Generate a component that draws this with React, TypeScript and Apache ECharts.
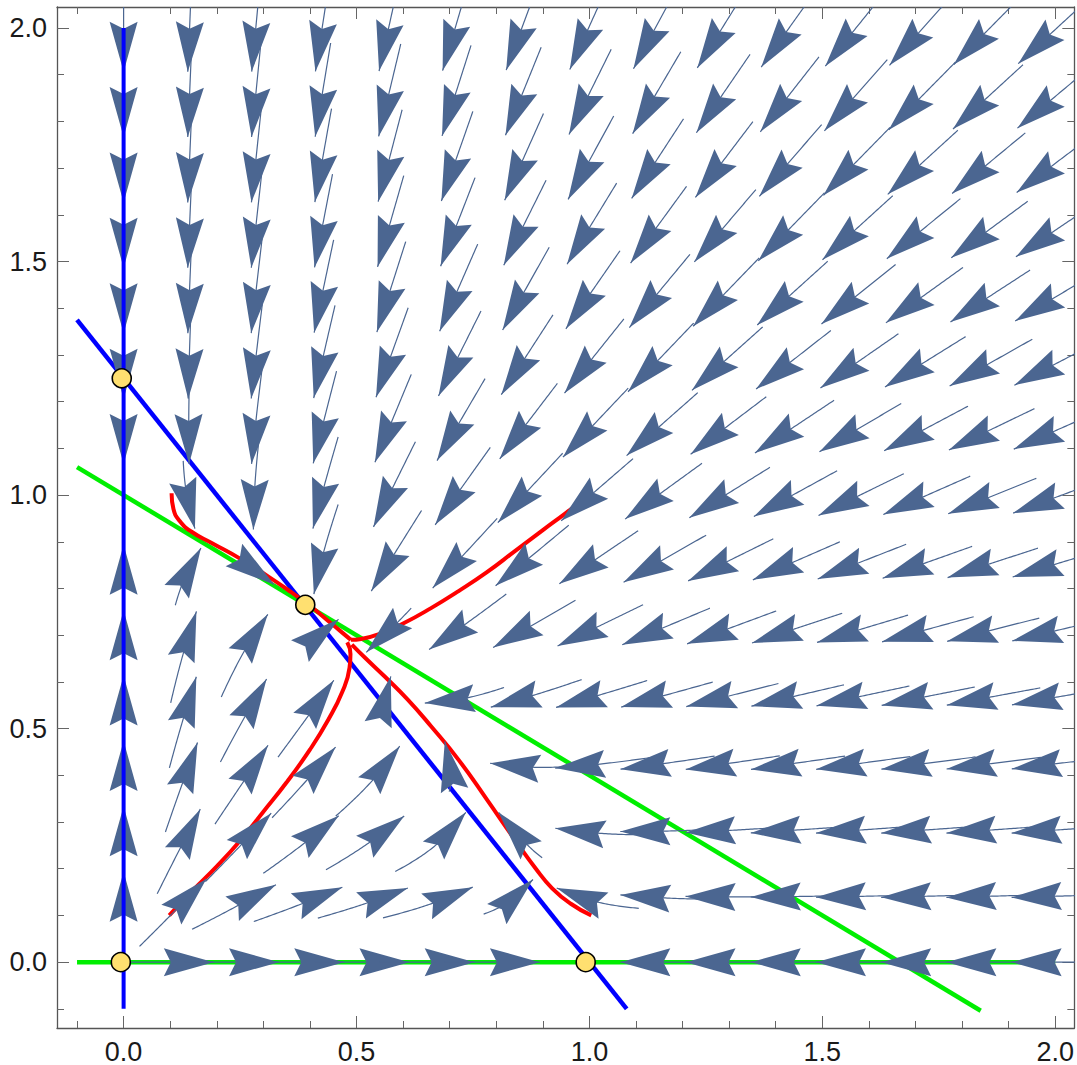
import React, { useEffect, useRef } from "react";
import * as echarts from "echarts";

// ---- model coefficients (flow on the axes and the meeting point of the red curves)
const MODEL_A = 0.75; // effect of y on x
const MODEL_B = 0.65; // effect of x on y

// ---- axes
const X_RANGE = [-0.143, 2.041];
const Y_RANGE = [-0.141, 2.045];
const MAJOR_TICKS = [0, 0.5, 1, 1.5, 2];
const MINOR_TICKS = [-0.1, 0.1, 0.2, 0.3, 0.4, 0.6, 0.7, 0.8, 0.9, 1.1, 1.2, 1.3, 1.4, 1.6, 1.7, 1.8, 1.9];

// ---- positions of the stream arrows (grid)
const ARROW_COLS = [0, 0.14, 0.28, 0.42, 0.56, 0.7, 0.84, 0.98, 1.12, 1.26, 1.4, 1.54, 1.68, 1.82, 1.96];
const ARROW_ROWS = [0, 0.14, 0.28, 0.42, 0.56, 0.7, 0.84, 0.98, 1.12, 1.26, 1.4, 1.54, 1.68, 1.82, 1.96];

// ---- nullclines
const BLUE_DIAGONAL = [[-0.1, 1.375], [1.08, -0.1]];
const BLUE_VERTICAL = [[0, -0.1], [0, 2.0]];
const GREEN_DIAGONAL = [[-0.1, 1.06], [1.84, -0.104]];
const GREEN_HORIZONTAL = [[-0.1, 0], [2.0, 0]];

// ---- trajectories (red)
const RED_A = [
  [0.103, 1.004], [0.107, 0.97], [0.12, 0.945], [0.145, 0.922], [0.19, 0.897],
  [0.25, 0.864], [0.31, 0.826], [0.36, 0.792], [0.4, 0.763], [0.44, 0.73],
  [0.47, 0.705], [0.488, 0.69],
];
const RED_B = [
  [0.098, 0.1], [0.15, 0.155], [0.2, 0.205], [0.25, 0.26], [0.3, 0.322],
  [0.35, 0.385], [0.4, 0.455], [0.44, 0.52], [0.47, 0.58], [0.485, 0.63],
  [0.487, 0.66], [0.48, 0.685],
];
const RED_C = [
  [1.004, 0.1], [0.96, 0.125], [0.92, 0.158], [0.885, 0.2], [0.84, 0.262],
  [0.78, 0.348], [0.72, 0.432], [0.66, 0.505], [0.61, 0.562], [0.56, 0.612],
  [0.52, 0.65], [0.49, 0.68],
];
const RED_D = [
  [1.0, 1.0], [0.95, 0.962], [0.9, 0.925], [0.84, 0.88], [0.78, 0.835],
  [0.72, 0.795], [0.66, 0.758], [0.6, 0.725], [0.55, 0.703], [0.51, 0.692],
  [0.488, 0.69],
];

// ---- marked points
const EQUILIBRIA = [[-0.006, 0], [-0.004, 1.25], [0.992, 0], [0.39, 0.765]];

const ARROW_COLOR = "#4b6691";
const FONT = "'Liberation Sans', Arial, sans-serif";

function field(x: number, y: number): [number, number] {
  return [x * (1 - x - MODEL_A * y), y * (1 - y - MODEL_B * x)];
}

function lineSeries(data: number[][], color: string, width: number, z: number, smooth: number | boolean = false) {
  return {
    type: "line",
    data,
    showSymbol: false,
    symbol: "none",
    smooth,
    lineStyle: { color, width, cap: "butt" },
    z,
    silent: true,
    clip: true,
  };
}

export default function App() {
  const ref = useRef<HTMLDivElement>(null);

  useEffect(() => {
    document.body.style.margin = "0";
    if (!ref.current) return;
    const chart = echarts.init(ref.current, undefined, { renderer: "svg" });

    const arrowData: number[][] = [];
    for (const x of ARROW_COLS) for (const y of ARROW_ROWS) arrowData.push([x, y]);

    const HEAD = 50;
    const HALF_W = 14;
    const NOTCH = 7;
    const FULL_LEN = 95;

    const renderArrow = (params: any, api: any) => {
      const x = api.value(0);
      const y = api.value(1);
      const [fx, fy] = field(x, y);
      const speed = Math.hypot(fx, fy);
      if (speed < 0.022) return { type: "group", children: [] };
      const o = api.coord([0, 0]);
      const u = api.coord([1, 1]);
      const sx = u[0] - o[0];
      const sy = u[1] - o[1];
      const dir = (px: number, py: number) => {
        const dx = (px - o[0]) / sx;
        const dy = (py - o[1]) / sy;
        const [gx, gy] = field(dx, dy);
        const vx = gx * sx;
        const vy = gy * sy;
        const n = Math.hypot(vx, vy);
        if (n < 1e-12) return null;
        return [vx / n, vy / n];
      };
      const c = api.coord([x, y]);
      const d0 = dir(c[0], c[1]);
      if (!d0) return { type: "group", children: [] };
      const tip = [c[0] + (d0[0] * HEAD) / 2, c[1] + (d0[1] * HEAD) / 2];
      const back = [c[0] - (d0[0] * HEAD) / 2, c[1] - (d0[1] * HEAD) / 2];
      const total = FULL_LEN * Math.min(1, speed / 0.1);
      const pts: number[][] = [tip, [c[0], c[1]]];
      let p = [c[0], c[1]];
      let remaining = total - HEAD / 2;
      const step = 2;
      while (remaining > 0) {
        const d = dir(p[0], p[1]);
        if (!d) break;
        p = [p[0] - d[0] * step, p[1] - d[1] * step];
        pts.push(p);
        remaining -= step;
      }
      const nx = -d0[1];
      const ny = d0[0];
      const poly = [
        tip,
        [back[0] + nx * HALF_W, back[1] + ny * HALF_W],
        [back[0] + d0[0] * NOTCH, back[1] + d0[1] * NOTCH],
        [back[0] - nx * HALF_W, back[1] - ny * HALF_W],
      ];
      const children: any[] = [];
      if (pts.length > 2) {
        children.push({
          type: "polyline",
          shape: { points: pts },
          style: { stroke: ARROW_COLOR, lineWidth: 1.2, fill: null },
        });
      }
      children.push({
        type: "polygon",
        shape: { points: poly },
        style: { fill: ARROW_COLOR, stroke: null },
      });
      return { type: "group", children };
    };

    const axisCommon = (min: number, max: number) => ({
      type: "value",
      min,
      max,
      splitLine: { show: false },
    });

    const tickStyle = { color: "#666", width: 1 };
    const frameStyle = { color: "#555", width: 1.3 };
    const labelStyle = {
      fontFamily: FONT,
      fontSize: 27,
      color: "#1a1a1a",
      margin: 10,
      formatter: (v: number) => v.toFixed(1),
    };
    const frameLine = { show: true, onZero: false, lineStyle: frameStyle };
    const noLine = { show: false, onZero: false };

    const option: any = {
      animation: false,
      backgroundColor: "#ffffff",
      grid: { left: 57, top: 7, right: 0, bottom: 37, containLabel: false },
      xAxis: [
        {
          ...axisCommon(X_RANGE[0], X_RANGE[1]),
          position: "bottom",
          axisLine: frameLine,
          axisTick: { show: true, inside: true, length: 12, customValues: MAJOR_TICKS, lineStyle: tickStyle },
          axisLabel: { show: true, customValues: MAJOR_TICKS, ...labelStyle },
        },
        {
          ...axisCommon(X_RANGE[0], X_RANGE[1]),
          position: "bottom",
          axisLine: noLine,
          axisTick: { show: true, inside: true, length: 7, customValues: MINOR_TICKS, lineStyle: tickStyle },
          axisLabel: { show: false },
        },
        {
          ...axisCommon(X_RANGE[0], X_RANGE[1]),
          position: "top",
          axisLine: frameLine,
          axisTick: { show: true, inside: true, length: 12, customValues: MAJOR_TICKS, lineStyle: tickStyle },
          axisLabel: { show: false },
        },
        {
          ...axisCommon(X_RANGE[0], X_RANGE[1]),
          position: "top",
          axisLine: noLine,
          axisTick: { show: true, inside: true, length: 7, customValues: MINOR_TICKS, lineStyle: tickStyle },
          axisLabel: { show: false },
        },
      ],
      yAxis: [
        {
          ...axisCommon(Y_RANGE[0], Y_RANGE[1]),
          position: "left",
          axisLine: frameLine,
          axisTick: { show: true, inside: true, length: 12, customValues: MAJOR_TICKS, lineStyle: tickStyle },
          axisLabel: { show: true, customValues: MAJOR_TICKS, ...labelStyle },
        },
        {
          ...axisCommon(Y_RANGE[0], Y_RANGE[1]),
          position: "left",
          axisLine: noLine,
          axisTick: { show: true, inside: true, length: 7, customValues: MINOR_TICKS, lineStyle: tickStyle },
          axisLabel: { show: false },
        },
        {
          ...axisCommon(Y_RANGE[0], Y_RANGE[1]),
          position: "right",
          axisLine: frameLine,
          axisTick: { show: true, inside: true, length: 12, customValues: MAJOR_TICKS, lineStyle: tickStyle },
          axisLabel: { show: false },
        },
        {
          ...axisCommon(Y_RANGE[0], Y_RANGE[1]),
          position: "right",
          axisLine: noLine,
          axisTick: { show: true, inside: true, length: 7, customValues: MINOR_TICKS, lineStyle: tickStyle },
          axisLabel: { show: false },
        },
      ],
      series: [
        lineSeries(GREEN_HORIZONTAL, "#00ee00", 4.5, 2),
        lineSeries(GREEN_DIAGONAL, "#00ee00", 4.5, 2),
        lineSeries(BLUE_DIAGONAL, "#0000ff", 4.5, 2),
        lineSeries(RED_A, "#ff0000", 4, 3, 0.5),
        lineSeries(RED_B, "#ff0000", 4, 3, 0.5),
        lineSeries(RED_C, "#ff0000", 4, 3, 0.5),
        lineSeries(RED_D, "#ff0000", 4, 3, 0.5),
        {
          type: "custom",
          data: arrowData,
          renderItem: renderArrow,
          clip: true,
          silent: true,
          z: 4,
        },
        lineSeries(BLUE_VERTICAL, "#0000ff", 4, 5),
        {
          type: "scatter",
          data: EQUILIBRIA,
          symbol: "circle",
          symbolSize: 19,
          itemStyle: { color: "#ffe070", borderColor: "#000000", borderWidth: 1.6, opacity: 1 },
          z: 6,
          silent: true,
        },
      ],
    };

    chart.setOption(option);
    return () => chart.dispose();
  }, []);

  return (
    <div
      ref={ref}
      style={{ position: "fixed", left: 0, top: 0, width: 1077, height: 1065, background: "#fff" }}
    />
  );
}
